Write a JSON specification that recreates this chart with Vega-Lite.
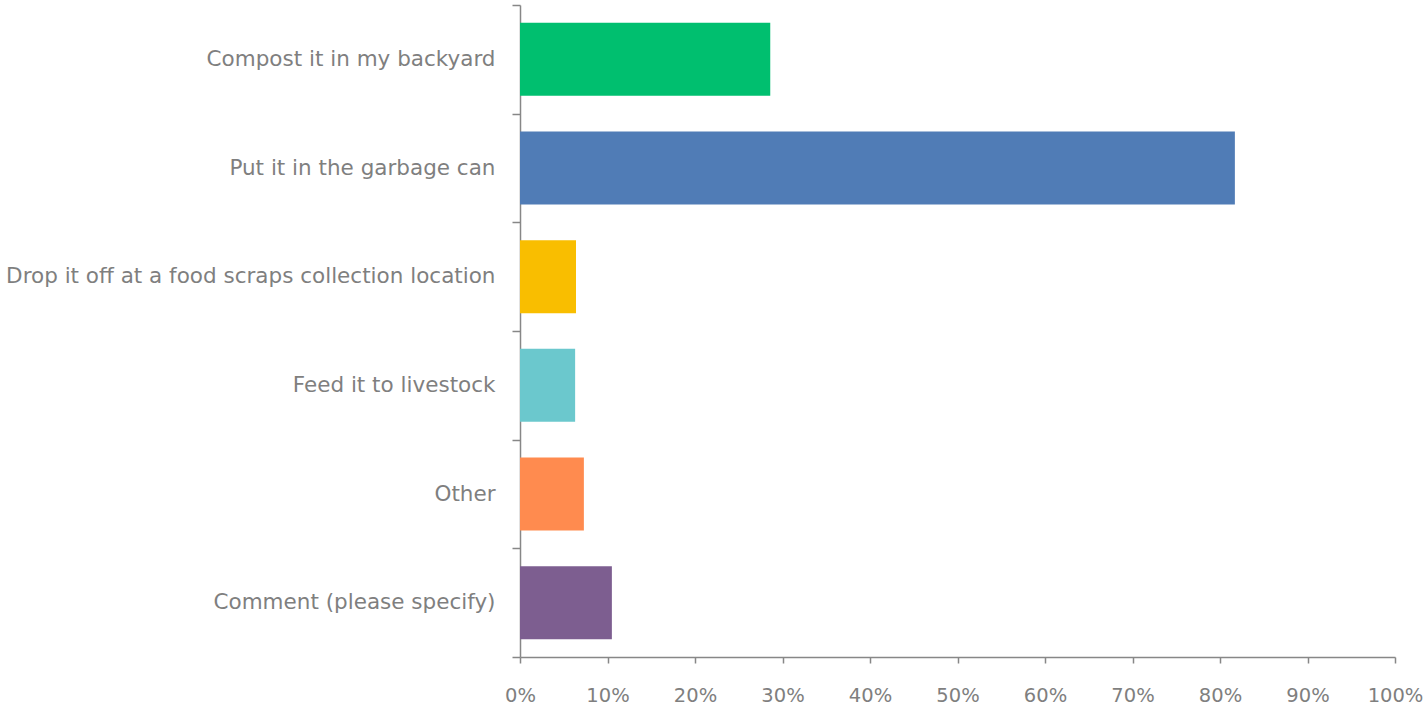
{
  "$schema": "https://vega.github.io/schema/vega-lite/v6.json",
  "width": 875,
  "height": 652,
  "autosize": "none",
  "padding": {"left": 520, "top": 5, "right": 32, "bottom": 50},
  "background": "white",
  "config": {"view": {"stroke": null}},
  "data": {
    "values": [
      {"answer": "Compost it in my backyard", "share": 0.286, "color": "#00BF6F"},
      {"answer": "Put it in the garbage can", "share": 0.817, "color": "#507CB6"},
      {"answer": "Drop it off at a food scraps collection location", "share": 0.064, "color": "#F9BE00"},
      {"answer": "Feed it to livestock", "share": 0.063, "color": "#6BC8CD"},
      {"answer": "Other", "share": 0.073, "color": "#FF8B4F"},
      {"answer": "Comment (please specify)", "share": 0.105, "color": "#7D5E90"}
    ]
  },
  "mark": {"type": "bar", "height": {"band": 0.672}},
  "encoding": {
    "y": {
      "field": "answer",
      "type": "nominal",
      "sort": null,
      "scale": {"paddingInner": 0, "paddingOuter": 0},
      "axis": {
        "title": null,
        "tickBand": "extent",
        "domainColor": "#878787",
        "domainWidth": 1.5,
        "tickColor": "#878787",
        "tickWidth": 1.5,
        "tickSize": 8,
        "labelPadding": 17,
        "labelFont": "DejaVu Sans",
        "labelFontSize": 21.5,
        "labelColor": "#7F7F7F",
        "labelLimit": 600
      }
    },
    "x": {
      "field": "share",
      "type": "quantitative",
      "scale": {"domain": [0, 1], "nice": false},
      "axis": {
        "title": null,
        "grid": false,
        "values": [0, 0.1, 0.2, 0.3, 0.4, 0.5, 0.6, 0.7, 0.8, 0.9, 1],
        "format": ".0%",
        "domainColor": "#878787",
        "domainWidth": 1.5,
        "tickColor": "#878787",
        "tickWidth": 1.5,
        "tickSize": 6,
        "labelPadding": 23,
        "labelFont": "DejaVu Sans",
        "labelFontSize": 19.5,
        "labelColor": "#7F7F7F",
        "labelFlush": false
      }
    },
    "color": {"field": "color", "type": "nominal", "scale": null, "legend": null}
  }
}
